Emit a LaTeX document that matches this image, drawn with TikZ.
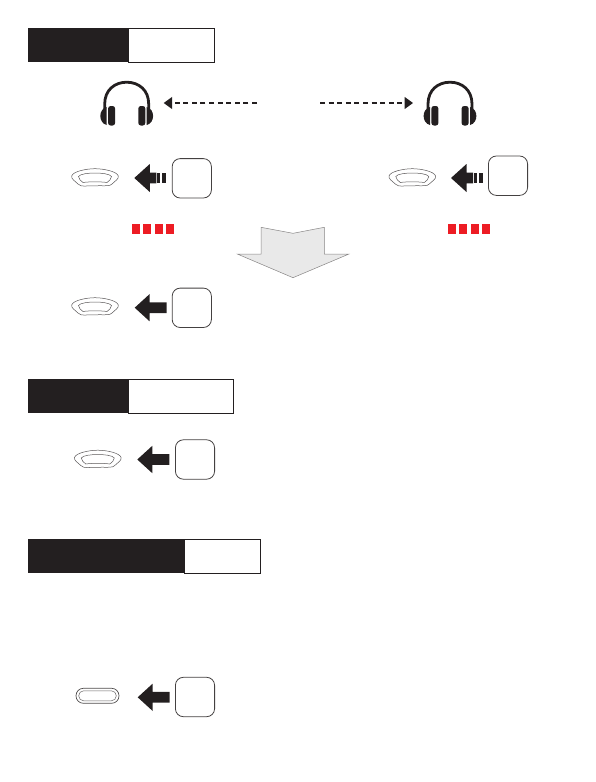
\documentclass[tikz,border=0pt]{standalone}
\usepackage{tikz}
\usetikzlibrary{arrows.meta,positioning,calc}
\usepackage{xcolor}
\definecolor{inkdark}{HTML}{231F20}
\definecolor{ledred}{HTML}{ED1C24}
\definecolor{panelgray}{HTML}{E9E9E9}

\begin{document}
\begin{tikzpicture}[
  x=1pt, y=-1pt,
  titlebar/.style={rectangle, fill=inkdark, inner sep=0pt, outer sep=0pt,
                   minimum height=34pt, anchor=north west},
  titlerest/.style={rectangle, fill=white, draw=inkdark, line width=1pt, inner sep=0pt, outer sep=0pt,
                    minimum height=33.6pt},
  keycap/.style={rectangle, rounded corners=8pt, draw=inkdark!85, line width=0.8pt,
                 minimum width=39.2pt, minimum height=39.4pt, inner sep=0pt},
  hpslot/.style={rectangle, inner sep=0pt, outer sep=0pt, minimum width=52pt, minimum height=45pt},
  link/.style={-{Triangle[length=8.5pt, width=12pt]}, line width=1.3pt, dash pattern=on 5pt off 3.6pt,
               color=inkdark, shorten >=11pt},
  ledbox/.style={rectangle, fill=ledred, inner sep=0pt, minimum width=8pt, minimum height=10pt},
  earset/.pic={
    \draw[inkdark, line width=2.8pt] (-22,6) -- (-22,1) .. controls (-22,-13) and (-12,-20.8) .. (0,-20.8)
      .. controls (12,-20.8) and (22,-13) .. (22,1) -- (22,6);
    \foreach \side in {-1,1} {
      \fill[inkdark, rounded corners=2.5pt] (\side*18.6,3) rectangle (\side*11.6,22.5);
      \fill[inkdark] (\side*20,4) .. controls (\side*28.5,6) and (\side*28.5,20) .. (\side*20,22) -- cycle;
    }
  },
  wheel/.pic={
    \draw[inkdark!75, line width=0.5pt] (-23.3,-2) .. controls (-22,-6.5) and (-9,-9.3) .. (0,-9.3)
      .. controls (9,-9.3) and (22,-6.5) .. (23.3,-2) .. controls (24,1) and (20,3) .. (17,6)
      .. controls (15,8.5) and (10,7.5) .. (0,7.8) .. controls (-10,7.5) and (-13,9.5) .. (-17,6)
      .. controls (-20,3) and (-24,1) .. cycle;
    \draw[inkdark!75, line width=0.5pt] (-16.5,-1.5) .. controls (-15,-4.2) and (-6,-5) .. (0,-5)
      .. controls (6,-5) and (15,-4.2) .. (16.5,-1.5) .. controls (16.5,1) and (14,3) .. (12,4.5)
      .. controls (6,3.6) and (-6,3.6) .. (-12,4.5) .. controls (-14,3) and (-16.5,1) .. cycle;
  },
  flatwheel/.pic={
    \draw[inkdark!80, line width=0.7pt, rounded corners=7.4pt] (-21.5,-7.5) rectangle (21.5,7.5);
    \draw[inkdark!70, line width=0.5pt, rounded corners=4.9pt] (-18.8,-5) rectangle (18.8,5);
  },
  pressarrow/.pic={
    \fill[inkdark] (0,0) -- (15,-13.7) -- (15,-5.4) -- (32,-5.4) -- (32,5.4) -- (15,5.4) -- (15,13.7) -- cycle;
  },
  holdarrow/.pic={
    \fill[inkdark] (0,0) -- (15.5,-14) -- (15.5,-5.3) -- (22,-5.3) -- (22,5.3) -- (15.5,5.3) -- (15.5,14) -- cycle;
    \fill[inkdark] (23,-5.3) rectangle (26,5.3);
    \fill[inkdark] (27.5,-5.3) rectangle (32,5.3);
  },
]
  \useasboundingbox (0,0) rectangle (595,782);

  % first heading
  \node[titlerest, minimum width=86pt, anchor=north west] (restA) at (128,28.4) {};
  \node[titlebar, minimum width=100pt] (barA) at (28,28.2) {};

  % headsets
  \node[hpslot] (hpleft) at (126.7,103) {};
  \node[hpslot] (hpright) at (450,103) {};
  \pic at (hpleft) {earset};
  \pic at (hpright) {earset};
  \coordinate (midleft) at (257,103);
  \coordinate (midright) at (320,103);
  \draw[link] (midleft) -- (hpleft);
  \draw[link] (midright) -- (hpright);

  % hold rows
  \pic at (95,178) {wheel};
  \pic at (134.3,178) {holdarrow};
  \node[keycap] (keyleft) at (191.8,178.3) {};
  \pic at (412.3,178) {wheel};
  \pic at (451,178) {holdarrow};
  \node[keycap] (keyright) at (508,175.7) {};

  % led dashes
  \foreach \n/\xa/\xb in {0/136/452, 1/147.3/463.3, 2/158.6/474.6, 3/170/486} {
    \node[ledbox] (ledl\n) at (\xa,229) {};
    \node[ledbox] (ledr\n) at (\xb,229) {};
  }

  % big arrow
  \draw[fill=panelgray, draw=inkdark!55, line width=0.5pt] (261,227.3) -- (293,233.3) -- (324.3,227.3)
    -- (324.3,254) -- (349,254) -- (293,277.7) -- (237.3,254) -- (261,254) -- cycle;

  % press row
  \pic at (95,307) {wheel};
  \pic at (134.7,307.7) {pressarrow};
  \node[keycap] (keypress) at (191.8,307.8) {};

  % second heading
  \node[titlerest, minimum width=105pt, anchor=north west] (restB) at (128,379.4) {};
  \node[titlebar, minimum width=100pt] (barB) at (28,379.2) {};
  \pic at (97.8,459.5) {wheel};
  \pic at (137.3,459.5) {pressarrow};
  \node[keycap] (keysecond) at (195,459.5) {};

  % third heading
  \node[titlerest, minimum width=75.5pt, anchor=north west] (restC) at (184.7,539.4) {};
  \node[titlebar, minimum width=156.7pt] (barC) at (28,539.2) {};
  \pic at (97.5,695.8) {flatwheel};
  \pic at (137.7,697.3) {pressarrow};
  \node[keycap] (keythird) at (195,697) {};
\end{tikzpicture}
\end{document}
